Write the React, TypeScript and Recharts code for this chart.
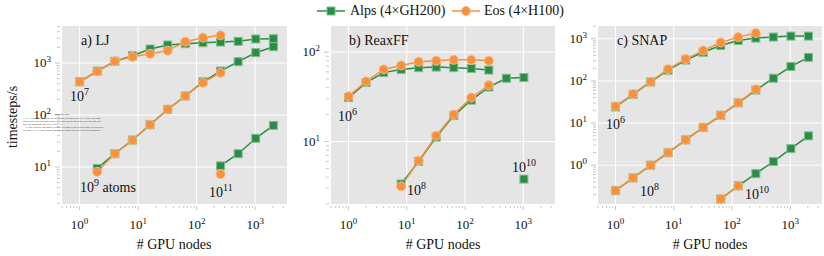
import { CartesianGrid, Line, LineChart, XAxis, YAxis } from "recharts";

const FONT = "Liberation Serif, DejaVu Serif, serif";
const GREEN = "#2a8c45";
const GREEN_EDGE = "#7fbf8d";
const ORANGE = "#f7913d";
const ORANGE_EDGE = "#fbb87f";
const txt = { fontFamily: FONT };

// node counts (x) and major tick values
const nodes = [1, 2, 4, 8, 16, 32, 64, 128, 256, 512, 1024, 2048];
const xMajor = [1, 10, 100, 1000];

// a) LJ  (timesteps/s)
const ljAlps7 = [436, 700, 1080, 1380, 1860, 2220, 2350, 2460, 2530, 2610, 2900, 2930];
const ljEos7 = [436, 690, 1080, 1320, 1510, 1730, 2570, 3070, 3410];
const ljAlps9 = [9.4, 18, 33, 65, 128, 232, 436, 700, 1060, 1580, 2060];
const ljEos9 = [8.1, 18, 33, 65, 128, 232, 418, 650];
const ljAlps11 = [10.5, 18, 35.6, 63];
const ljEos11 = [7.3];

// b) ReaxFF
const rxAlps6 = [31, 45.6, 59, 64, 67, 68, 67, 65.6, 63];
const rxEos6 = [32, 47, 64, 71, 78, 80, 82, 82, 80];
const rxAlps8 = [3.35, 6.0, 11.2, 19.5, 29, 40.7, 51, 52];
const rxEos8 = [3.15, 6.1, 11.6, 20, 31, 42.6];
const rxAlps10 = [3.8];

// c) SNAP
const snAlps6 = [24.2, 47.9, 94.6, 180, 313, 479, 692, 912, 1040, 1100, 1160, 1160];
const snEos6 = [25, 49, 96, 190, 331, 525, 817, 1096, 1370];
const snAlps8 = [0.25, 0.5, 1.0, 1.98, 4.0, 7.9, 15.3, 30.2, 60.8, 116, 221, 363];
const snEos8 = [0.25, 0.5, 1.0, 2.0, 4.0, 7.9, 15.3, 30.5, 63];
const snAlps10 = [0.158, 0.325, 0.63, 1.22, 2.47, 4.97];
const snEos10 = [0.158, 0.325];

// pair values with node counts, starting at a given node count
const pts = (start: number, vals: number[]) => {
  const i0 = nodes.indexOf(start);
  return vals.map((v, i) => ({ n: nodes[i0 + i], v }));
};

const logTicks = (lo: number, hi: number) => {
  const out: number[] = [];
  for (let e = -2; e <= 4; e++) {
    for (let m = 1; m < 10; m++) {
      const t = m * Math.pow(10, e);
      if (t >= lo && t <= hi) out.push(t);
    }
  }
  return out;
};

const isMajor = (v: number) => {
  const lg = Math.log10(v);
  return Math.abs(lg - Math.round(lg)) < 1e-6;
};

const YTick = (props: any) => {
  const { x, y, payload } = props;
  const v = payload.value;
  const major = isMajor(v);
  return (
    <g>
      <line x1={x - 2} x2={x - (major ? 7 : 5)} y1={y} y2={y} stroke="#b8b8b8" strokeWidth={0.8} />
      {major && (
        <text x={x - 11} y={y + 4} textAnchor="end" style={txt} fontSize={13} fill="#111">
          10<tspan dy={-5} fontSize={9}>{Math.round(Math.log10(v))}</tspan>
        </text>
      )}
    </g>
  );
};

const XTick = (props: any) => {
  const { x, y, payload } = props;
  const v = payload.value;
  const major = isMajor(v);
  return (
    <g>
      <line x1={x} x2={x} y1={y + 2} y2={y + (major ? 6 : 4)} stroke="#b8b8b8" strokeWidth={0.8} />
      {major && (
        <text x={x} y={y + 25} textAnchor="middle" style={txt} fontSize={13} fill="#111">
          10<tspan dy={-5} fontSize={9}>{Math.round(Math.log10(v))}</tspan>
        </text>
      )}
    </g>
  );
};

const square = (p: any) => (
  <rect key={`s${p.index}-${p.cx}`} x={p.cx - 4} y={p.cy - 4} width={8} height={8} fill={GREEN} stroke={GREEN_EDGE} strokeWidth={1} />
);
const circle = (p: any) => (
  <circle key={`c${p.index}-${p.cx}`} cx={p.cx} cy={p.cy} r={4.5} fill={ORANGE} stroke={ORANGE_EDGE} strokeWidth={1} />
);

type Series = { data: { n: number; v: number }[]; eos?: boolean };

function Panel({ width, yWidth, right, yDomain, yMajor, series }: {
  width: number; yWidth: number; right: number; yDomain: [number, number]; yMajor: number[]; series: Series[];
}) {
  const xDomain: [number, number] = [0.5, 3500];
  return (
    <LineChart width={width} height={256} margin={{ top: 26, right, left: 0, bottom: 0 }}>
      <CartesianGrid fill="#e5e5e5" stroke="#ffffff" strokeWidth={1} horizontalValues={yMajor} verticalValues={xMajor} />
      <XAxis dataKey="n" type="number" scale="log" domain={xDomain} allowDataOverflow ticks={logTicks(xDomain[0], xDomain[1])}
        interval={0} height={52} axisLine={false} tickLine={false} tickSize={0} tickMargin={0} tick={<XTick />} />
      <YAxis type="number" scale="log" domain={yDomain} allowDataOverflow ticks={logTicks(yDomain[0], yDomain[1])}
        interval={0} width={yWidth} axisLine={false} tickLine={false} tickSize={0} tickMargin={0} tick={<YTick />} />
      {series.map((s, i) => (
        <Line key={i} data={s.data} dataKey="v" type="linear" stroke={s.eos ? ORANGE : GREEN} strokeWidth={1.5}
          dot={s.eos ? circle : square} activeDot={false} isAnimationActive={false} />
      ))}
    </LineChart>
  );
}

const Sup = ({ x, y, base, exp, rest }: { x: number; y: number; base: string; exp: string; rest?: string }) => (
  <text x={x} y={y} style={txt} fontSize={14} fill="#111">
    {base}<tspan dy={-6} fontSize={10}>{exp}</tspan>{rest && <tspan dy={6}>{rest}</tspan>}
  </text>
);

const tempLines = [
  "LATEX was unable to guess the total number of pages correctly. As there was some",
  "unprocessed data that should have been added to the final page this extra page has",
  "been added to receive it.",
  "If you rerun the document (without altering it) this surplus page will go away,",
  "because LATEX now knows how many pages to expect for this document.",
];

export default function App() {
  return (
    <div style={{ position: "absolute", left: 0, top: 0, width: 824, height: 256, background: "#fff", fontFamily: FONT }}>
      <div style={{ position: "absolute", left: 0, top: 0 }}>
        <Panel width={290} yWidth={62} right={3} yDomain={[1.94, 5150]} yMajor={[10, 100, 1000]}
          series={[
            { data: pts(1, ljAlps7) }, { data: pts(2, ljAlps9) }, { data: pts(256, ljAlps11) },
            { data: pts(1, ljEos7), eos: true }, { data: pts(2, ljEos9), eos: true }, { data: pts(256, ljEos11), eos: true },
          ]} />
      </div>
      <div style={{ position: "absolute", left: 290, top: 0 }}>
        <Panel width={268} yWidth={41} right={3} yDomain={[2.0, 196]} yMajor={[10, 100]}
          series={[
            { data: pts(1, rxAlps6) }, { data: pts(8, rxAlps8) }, { data: pts(1024, rxAlps10) },
            { data: pts(1, rxEos6), eos: true }, { data: pts(8, rxEos8), eos: true },
          ]} />
      </div>
      <div style={{ position: "absolute", left: 558, top: 0 }}>
        <Panel width={266} yWidth={40} right={2} yDomain={[0.12, 2014]} yMajor={[1, 10, 100, 1000]}
          series={[
            { data: pts(1, snAlps6) }, { data: pts(1, snAlps8) }, { data: pts(64, snAlps10) },
            { data: pts(1, snEos6), eos: true }, { data: pts(1, snEos8), eos: true }, { data: pts(64, snEos10), eos: true },
          ]} />
      </div>
      <svg width={824} height={256} style={{ position: "absolute", left: 0, top: 0, pointerEvents: "none" }}>
        {/* legend */}
        <line x1={317} x2={345} y1={11} y2={11} stroke={GREEN} strokeWidth={1.5} />
        <rect x={327} y={7} width={8} height={8} fill={GREEN} stroke={GREEN_EDGE} strokeWidth={1} />
        <text x={350} y={15} style={txt} fontSize={14} fill="#111">Alps (4×GH200)</text>
        <line x1={452} x2={480} y1={11} y2={11} stroke={ORANGE} strokeWidth={1.5} />
        <circle cx={466} cy={11} r={4.5} fill={ORANGE} stroke={ORANGE_EDGE} strokeWidth={1} />
        <text x={484} y={15} style={txt} fontSize={14} fill="#111">Eos (4×H100)</text>

        {/* axis titles */}
        <text transform="translate(17,117) rotate(-90)" textAnchor="middle" style={txt} fontSize={14} fill="#111">timesteps/s</text>
        <text x={174} y={249} textAnchor="middle" style={txt} fontSize={14} fill="#111"># GPU nodes</text>
        <text x={443} y={249} textAnchor="middle" style={txt} fontSize={14} fill="#111"># GPU nodes</text>
        <text x={710} y={249} textAnchor="middle" style={txt} fontSize={14} fill="#111"># GPU nodes</text>

        {/* panel titles */}
        <text x={81} y={45} style={txt} fontSize={14} fill="#111">a) LJ</text>
        <text x={349} y={45} style={txt} fontSize={14} fill="#111">b) ReaxFF</text>
        <text x={617} y={45} style={txt} fontSize={14} fill="#111">c) SNAP</text>

        {/* problem size annotations */}
        <Sup x={70} y={101} base="10" exp="7" />
        <Sup x={80} y={192} base="10" exp="9" rest=" atoms" />
        <Sup x={209} y={197} base="10" exp="11" />
        <Sup x={338} y={121} base="10" exp="6" />
        <Sup x={407} y={195} base="10" exp="8" />
        <Sup x={512} y={172} base="10" exp="10" />
        <Sup x={606} y={129} base="10" exp="6" />
        <Sup x={640} y={196} base="10" exp="8" />
        <Sup x={745} y={199} base="10" exp="10" />

        {/* stray LaTeX temporary page note */}
        <text x={62} y={115} textAnchor="middle" style={txt} fontSize={2.3} fill="#333">Temporary page!</text>
        {tempLines.map((t, i) => (
          <text key={i} x={i === 3 ? 26 : 23} y={118.5 + i * 3.2} style={txt} fontSize={2.3} fill="#333"
            textLength={i === 2 ? 40 : 78} lengthAdjust="spacingAndGlyphs">{t}</text>
        ))}
      </svg>
    </div>
  );
}
